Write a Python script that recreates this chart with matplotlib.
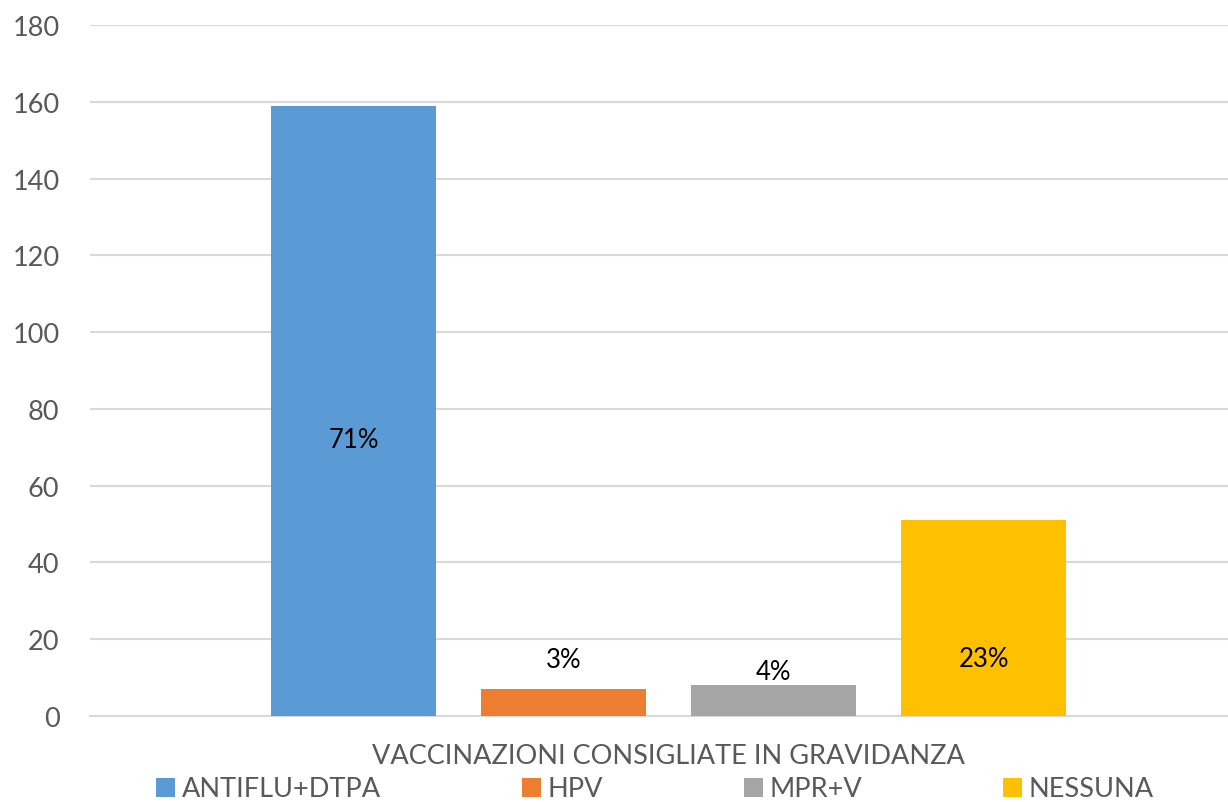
import matplotlib
matplotlib.use("Agg")
import matplotlib.pyplot as plt
from matplotlib.patches import Patch

categories = ["ANTIFLU+DTPA", "HPV", "MPR+V", "NESSUNA"]
values = [159, 7, 8, 51]
pct_labels = ["71%", "3%", "4%", "23%"]
colors = ["#5B9BD5", "#ED7D31", "#A5A5A5", "#FFC000"]
y_ticks = [0, 20, 40, 60, 80, 100, 120, 140, 160, 180]
x_title = "VACCINAZIONI CONSIGLIATE IN GRAVIDANZA"

# label vertical positions (data units)
label_y = [71.9, 14.8, 11.7, 15.1]

plt.rcParams['font.family'] = ['Lato', 'DejaVu Sans']

fig = plt.figure(figsize=(12.28, 8.03), dpi=100)
ax = fig.add_axes([90/1228, 1-717/803, 1-90/1228, (717-26)/803])

x = list(range(len(categories)))
ax.bar(x, values, width=165/210, color=colors, zorder=3)
for xi, ly, t in zip(x, label_y, pct_labels):
    ax.text(xi, ly, t, ha='center', va='center', fontsize=18.5, color='black', zorder=4)

ax.set_ylim(0, 180)
ax.set_xlim(-1.255, 4.164)
ax.set_yticks(y_ticks)
ax.set_yticklabels([str(v) for v in y_ticks], fontsize=19.5, color='#595959')
ax.set_xticks([])
ax.tick_params(axis='y', length=0, pad=22)
ax.grid(axis='y', color='#D9D9D9', linewidth=1.5, zorder=0)
for s in ['top', 'right', 'left']:
    ax.spines[s].set_visible(False)
ax.spines['bottom'].set_color('#D9D9D9')
ax.spines['bottom'].set_linewidth(1.5)

fig.text(668/1228, 1-757/803, x_title, ha='center', va='center', fontsize=19.5, color='#595959')

handles = [Patch(facecolor=c, edgecolor='none') for c in colors]
fig.legend(handles, categories, loc='center', bbox_to_anchor=(655/1228, 1-790/803),
           ncol=4, frameon=False, fontsize=19.5, labelcolor='#595959',
           handlelength=0.7, handleheight=0.7, handletextpad=0.25, columnspacing=5.2,
           borderpad=0, borderaxespad=0)

fig.savefig("out.png", dpi=100)
